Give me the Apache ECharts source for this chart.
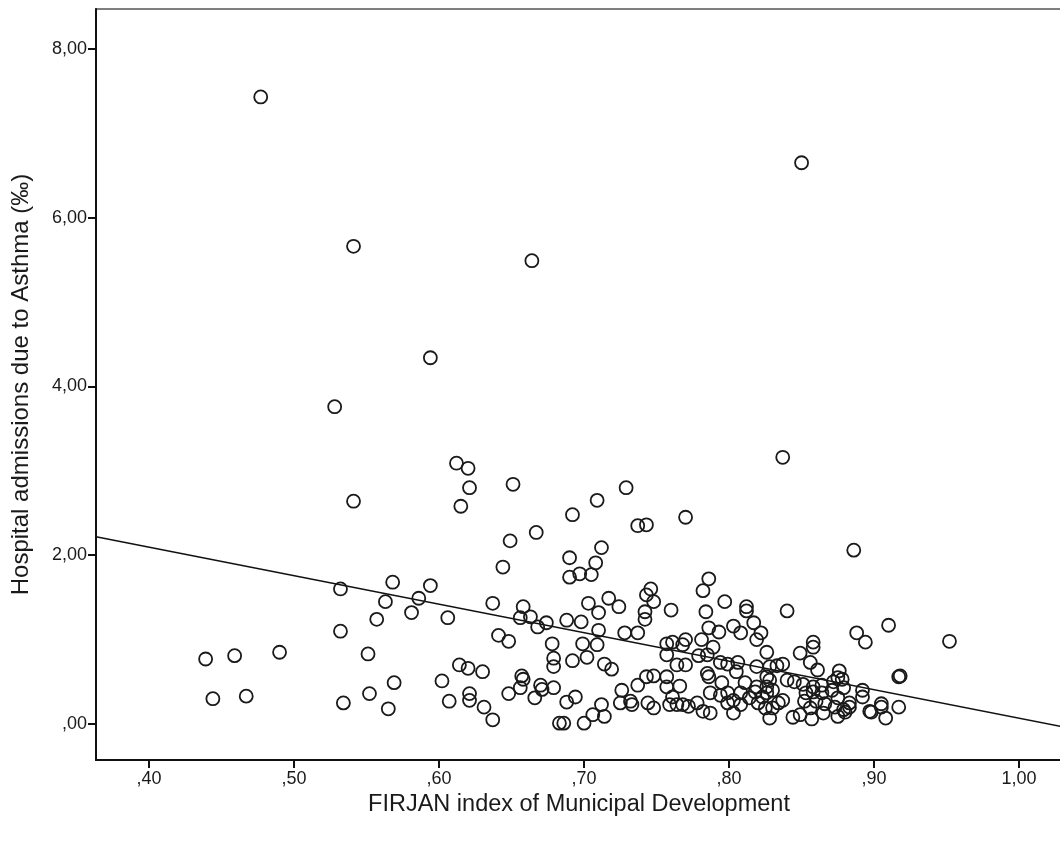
<!DOCTYPE html>
<html>
<head>
<meta charset="utf-8">
<script src="https://cdn.jsdelivr.net/npm/echarts@6/dist/echarts.min.js"></script>
<style>html,body{margin:0;padding:0;background:#fff}#c{width:1060px;height:842px}</style>
</head>
<body>
<div id="c"></div>
<script>
// FIRJAN index (x) and hospital admissions due to asthma per 1000 (y)
var firjanIndex = [
0.477,0.850,0.541,0.664,0.594,0.528,0.837,0.612,0.620,0.621,0.615,0.541,0.651,0.729,0.709,0.770,0.692,0.737,0.743,0.667,0.649,0.886,0.712,
0.690,0.708,0.690,0.697,0.705,0.644,0.637,0.606,0.658,0.656,0.663,0.668,0.674,0.688,0.698,0.703,0.717,0.724,0.710,0.710,0.728,0.737,0.641,0.648,0.678,0.699,0.709,0.702,0.679,0.679,0.692,0.614,0.620,0.630,0.714,0.719,0.657,0.658,0.602,0.656,0.670,0.671,0.679,0.648,0.666,0.621,0.621,0.607,0.631,0.637,0.688,0.694,0.712,0.706,0.714,0.700,0.683,0.686,0.726,0.725,0.732,0.733,0.737,
0.439,0.459,0.490,0.444,0.467,0.532,0.532,0.568,0.594,0.563,0.586,0.557,0.581,0.551,0.569,0.552,0.534,0.565,
0.786,0.782,0.746,0.743,0.748,0.760,0.742,0.742,0.784,0.797,0.812,0.812,0.817,0.786,0.793,0.803,0.808,0.822,0.819,0.840,0.757,0.761,0.770,0.768,0.781,0.789,0.757,0.779,0.785,0.764,0.770,0.794,0.799,0.806,0.819,0.826,0.828,0.833,0.837,0.840,0.826,0.743,0.748,0.757,0.757,0.766,0.785,0.786,0.795,0.805,0.811,0.819,0.826,0.828,0.830,0.744,0.748,0.761,0.759,0.764,0.768,0.772,0.778,0.782,0.787,0.787,0.794,0.799,0.799,0.803,0.808,0.803,0.808,0.814,0.818,0.820,0.823,0.825,0.828,0.830,0.834,0.837,0.826,
0.888,0.894,0.910,0.952,0.917,0.918,0.858,0.858,0.849,0.856,0.861,0.876,0.875,0.878,0.845,0.851,0.864,0.872,0.892,0.892,0.853,0.858,0.864,0.871,0.879,0.875,0.852,0.860,0.866,0.883,0.897,0.905,0.905,0.917,0.908,0.898,0.856,0.849,0.844,0.857,0.865,0.875,0.879,0.883,0.880,0.873,0.858
];
var asthmaRate = [
7.43,6.65,5.66,5.49,4.34,3.76,3.16,3.09,3.03,2.80,2.58,2.64,2.84,2.80,2.65,2.45,2.48,2.35,2.36,2.27,2.17,2.06,2.09,
1.97,1.91,1.74,1.78,1.77,1.86,1.43,1.26,1.39,1.26,1.27,1.15,1.20,1.23,1.21,1.43,1.49,1.39,1.32,1.11,1.08,1.08,1.05,0.98,0.95,0.95,0.94,0.79,0.78,0.68,0.75,0.70,0.66,0.62,0.71,0.65,0.57,0.53,0.51,0.43,0.46,0.41,0.43,0.36,0.31,0.36,0.28,0.27,0.20,0.05,0.26,0.32,0.23,0.11,0.09,0.01,0.01,0.01,0.40,0.25,0.27,0.23,0.46,
0.77,0.81,0.85,0.30,0.33,1.60,1.10,1.68,1.64,1.45,1.49,1.24,1.32,0.83,0.49,0.36,0.25,0.18,
1.72,1.58,1.60,1.53,1.45,1.35,1.33,1.24,1.33,1.45,1.39,1.34,1.20,1.14,1.09,1.16,1.08,1.08,1.00,1.34,0.95,0.97,1.00,0.94,1.00,0.91,0.82,0.81,0.82,0.70,0.70,0.73,0.71,0.73,0.68,0.85,0.68,0.69,0.71,0.52,0.56,0.56,0.57,0.56,0.44,0.45,0.60,0.56,0.49,0.62,0.49,0.44,0.44,0.52,0.40,0.25,0.19,0.32,0.23,0.23,0.23,0.21,0.25,0.15,0.13,0.37,0.34,0.37,0.25,0.28,0.37,0.13,0.23,0.31,0.38,0.25,0.32,0.19,0.07,0.19,0.25,0.28,0.37,
1.08,0.97,1.17,0.98,0.56,0.57,0.97,0.91,0.84,0.73,0.64,0.63,0.55,0.53,0.50,0.47,0.46,0.50,0.40,0.32,0.37,0.38,0.37,0.40,0.43,0.31,0.27,0.27,0.24,0.25,0.15,0.24,0.20,0.20,0.07,0.14,0.19,0.11,0.08,0.06,0.13,0.09,0.17,0.20,0.14,0.20,0.44
];
// Fit line end points
var fitX = [0.3634, 1.0296];
var fitY = [2.22, -0.03];
// Axis ticks
var xTicks = [0.4, 0.5, 0.6, 0.7, 0.8, 0.9, 1.0];
var xTickLabels = [',40', ',50', ',60', ',70', ',80', ',90', '1,00'];
var yTicks = [0, 2, 4, 6, 8];
var yTickLabels = [',00', '2,00', '4,00', '6,00', '8,00'];

var FONT = "'Liberation Sans', Arial, sans-serif";
var points = firjanIndex.map(function (x, i) { return [x, asthmaRate[i]]; });
var fitLine = fitX.map(function (x, i) { return [x, fitY[i]]; });

function lookup(vals, labels) {
  return function (v) {
    for (var i = 0; i < vals.length; i++) if (Math.abs(vals[i] - v) < 1e-6) return labels[i];
    return '';
  };
}

var chart = echarts.init(document.getElementById('c'), null, { renderer: 'canvas' });
chart.setOption({
  animation: false,
  backgroundColor: '#ffffff',
  grid: { left: 96, right: -2, top: 9, bottom: 82, show: true, borderColor: '#555', borderWidth: 1.5, outerBoundsMode: 'none', containLabel: false },
  xAxis: {
    type: 'value', min: 0.3634, max: 1.0296,
    name: 'FIRJAN index of Municipal Development', nameLocation: 'middle', nameGap: 25,
    nameTextStyle: { fontFamily: FONT, fontSize: 23.5, color: '#1a1a1a' },
    axisLine: { show: true, onZero: false, lineStyle: { color: '#111', width: 2 } },
    axisTick: { show: true, length: 8, customValues: xTicks, lineStyle: { color: '#111', width: 2 } },
    axisLabel: { customValues: xTicks, formatter: lookup(xTicks, xTickLabels), fontFamily: FONT, fontSize: 18, color: '#1a1a1a', margin: 10 },
    splitLine: { show: false }
  },
  yAxis: {
    type: 'value', min: -0.4265, max: 8.472,
    name: 'Hospital admissions due to Asthma (‰)', nameLocation: 'middle', nameGap: 63, nameRotate: 90,
    nameTextStyle: { fontFamily: FONT, fontSize: 24, color: '#1a1a1a' },
    axisLine: { show: true, onZero: false, lineStyle: { color: '#111', width: 2 } },
    axisTick: { show: true, length: 8, customValues: yTicks, lineStyle: { color: '#111', width: 2 } },
    axisLabel: { customValues: yTicks, formatter: lookup(yTicks, yTickLabels), fontFamily: FONT, fontSize: 18, color: '#1a1a1a', margin: 9 },
    splitLine: { show: false }
  },
  series: [
    {
      type: 'scatter', data: points, symbol: 'circle', symbolSize: 13,
      itemStyle: { color: 'rgba(255,255,255,0)', borderColor: '#1a1a1a', borderWidth: 1.8, opacity: 1 },
      z: 3
    },
    {
      type: 'line', data: fitLine, showSymbol: false, symbol: 'none', silent: true,
      lineStyle: { color: '#111', width: 1.5 }, z: 2
    }
  ]
});
</script>
</body>
</html>
